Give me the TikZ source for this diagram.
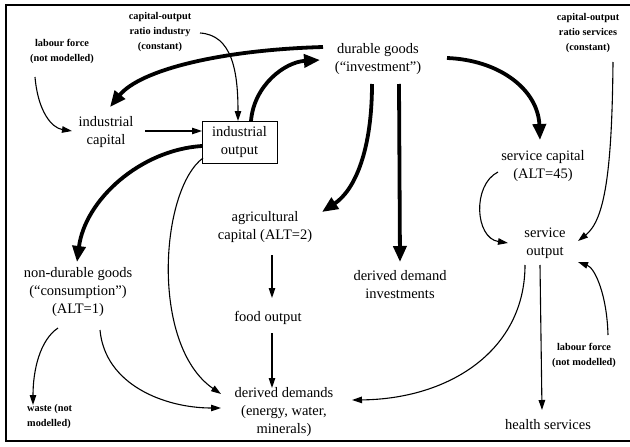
\documentclass[tikz,border=0pt]{standalone}
\usepackage{fontspec}
\setmainfont{Liberation Serif}
\usetikzlibrary{arrows.meta,calc}
\tikzset{
  lbl/.style={align=center,inner sep=1pt,font=\fontsize{14.5}{18}\selectfont},
  sml/.style={align=center,inner sep=1pt,font=\fontsize{10.3}{15}\selectfont\bfseries},
  thick arr/.style={line width=3.8pt,-{Triangle[length=16pt,width=13pt]}},
  thin arr/.style={line width=1.1pt,-{Triangle[length=10pt,width=6.5pt]}},
  boxed/.style={draw,line width=1pt,minimum width=75pt,minimum height=42pt,inner sep=0pt}
}
\begin{document}
\begin{tikzpicture}[x=1pt,y=-1pt]
\useasboundingbox (0,0) rectangle (630,447);
\draw[line width=1.3pt] (630,5) -- (6,5) -- (6,441) -- (630,441);

\node[sml] (cori) at (160,32) {capital-output\\ratio industry\\(constant)};
\node[sml] (labL) at (62,51) {labour force\\(not modelled)};
\node[lbl] (dur) at (378,59) {durable goods\\(``investment'')};
\node[sml] (cors) at (588,33) {capital-output\\ratio services\\(constant)};
\node[lbl] (icap) at (106,132) {industrial\\capital};
\node[lbl,boxed] (iout) at (239.5,142) {industrial\\output};
\node[lbl] (scap) at (543,166) {service capital\\(ALT=45)};
\node[lbl] (agr) at (265,227) {agricultural\\capital (ALT=2)};
\node[lbl] (sout) at (545,243) {service\\output};
\node[lbl] (nondur) at (78,292) {non-durable goods\\(``consumption'')\\(ALT=1)};
\node[lbl] (ddi) at (400,285) {derived demand\\investments};
\node[lbl] (food) at (268,318) {food output};
\node[sml] (labR) at (584,355) {labour force\\(not modelled)};
\node[sml,align=left,anchor=west] (waste) at (26,417) {waste (not\\modelled)};
\node[lbl] (dd) at (284,412) {derived demands\\(energy, water,\\minerals)};
\node[lbl] (health) at (548,425) {health services};

% thin arrows
\draw[thin arr] ($(labL)+(-27,26)$) .. controls +(3,35) and +(-20,-3) .. ($(icap)+(-34,-1)$);
\draw[thin arr] ($(cori)+(40,1)$) .. controls +(32,2) and +(0,-50) .. ($(iout)+(-1.5,-21)$);
\draw[thin arr] ($(icap)+(39,-1)$) -- ($(iout)+(-37.5,-11)$);
\draw[thin arr] ($(iout)+(-36.5,16)$) .. controls +(-43,32) and +(-71,-49) .. ($(dd)+(-63,-18)$);
\draw[thin arr] ($(nondur)+(22,38)$) .. controls +(5,55) and +(-56,0) .. ($(dd)+(-63,-4)$);
\draw[thin arr] ($(nondur)+(-20,36)$) .. controls +(-18,12) and +(0,-35) .. ($(waste.west)+(7,-12)$);
\draw[thin arr] ($(cors)+(25,29)$) .. controls +(-1,108) and +(27,-21) .. ($(sout)+(33,-2)$);
\draw[thin arr] ($(scap)+(-45,6)$) .. controls +(-26,13) and +(-33,-5) .. ($(sout)+(-37,0)$);
\draw[thin arr] ($(labR)+(24,-20)$) .. controls +(-1,-40) and +(17,6) .. ($(sout)+(33,19)$);
\draw[thin arr] ($(sout)+(-5,22)$) -- ($(health)+(-6,-15)$);
\draw[thin arr] ($(sout)+(-20,22)$) .. controls +(0,85) and +(98,-1) .. ($(dd)+(68,-12)$);
\draw[thin arr] ($(agr)+(7,28)$) -- ($(food)+(4,-20)$);
\draw[thin arr] ($(food)+(4,15)$) -- ($(dd)+(-12,-24)$);

% thick arrows
\draw[thick arr] ($(dur)+(-55,-12)$) .. controls +(-103,3) and +(30,-37) .. ($(icap)+(4,-25)$);
\draw[thick arr] ($(iout)+(11.5,-21)$) .. controls +(3,-36) and +(-35,2) .. ($(dur)+(-58,1)$);
\draw[thick arr] ($(iout)+(-37.5,4)$) .. controls +(-62,4) and +(8,-62) .. ($(nondur)+(-1,-30)$);
\draw[thick arr] ($(dur)+(-6,25)$) .. controls +(0,66) and +(33,-22) .. ($(agr)+(57,-15)$);
\draw[thick arr] ($(dur)+(21,25)$) -- ($(ddi)+(0,-23)$);
\draw[thick arr] ($(dur)+(69,-1)$) .. controls +(53,2) and +(-2,-50) .. ($(scap)+(-3,-26)$);
\end{tikzpicture}
\end{document}
